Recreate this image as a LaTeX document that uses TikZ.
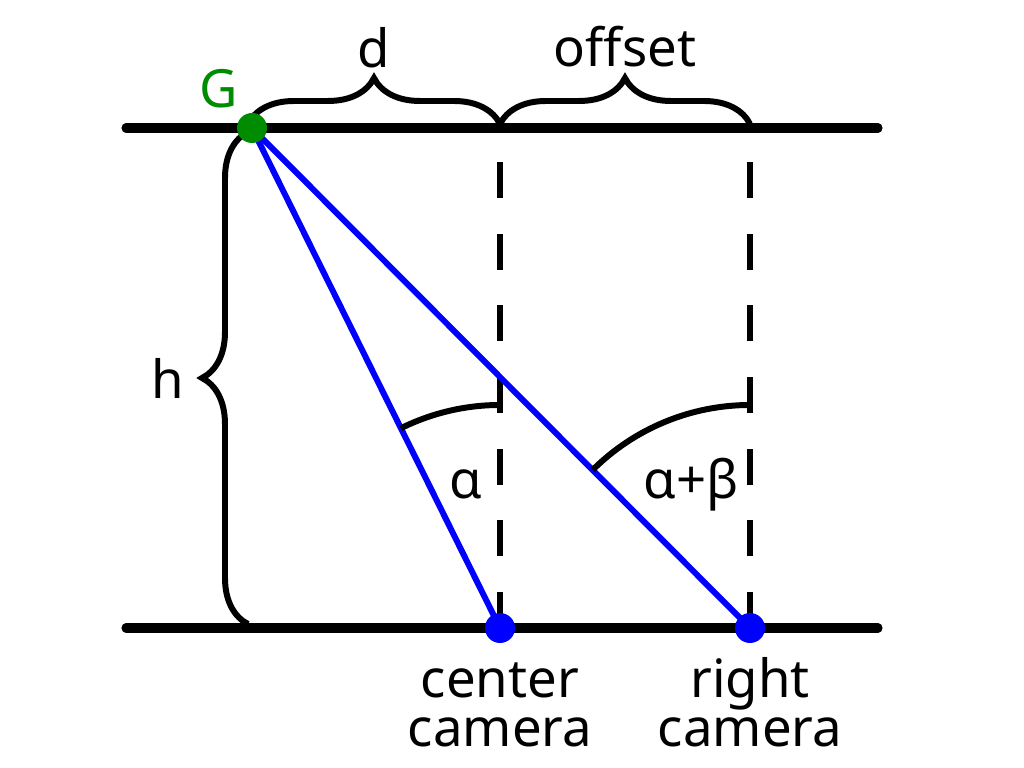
\documentclass[tikz,border=0pt]{standalone}
\usepackage{fontspec}
\setmainfont{Noto Sans}
\usetikzlibrary{positioning,decorations.pathreplacing,calc,backgrounds}
\definecolor{ptgreen}{RGB}{0,140,0}

\begin{document}
\begin{tikzpicture}[
    rail/.style={line width=2.6pt, line cap=round},
    ray/.style={draw=blue, line width=1.7pt},
    plumb/.style={line width=1.7pt, dash pattern=on 10.2pt off 10.2pt},
    brace/.style={decorate, decoration={brace, amplitude=0.46cm}, line width=1.7pt},
    angarc/.style={line width=1.7pt},
    dot/.style={circle, inner sep=0pt, minimum size=0.3cm, fill=#1},
    lbl/.style={font=\fontsize{15}{14.2}\selectfont, inner sep=0pt, align=center}
]
    \useasboundingbox (0,0) rectangle (10.24,7.68);

    % points
    \node[dot=ptgreen] (G) at (2.52,6.40) {};
    \node[dot=blue] (cc) at (5.00,1.40) {};
    \node[dot=blue] (rc) at (7.50,1.40) {};
    \coordinate (tl) at (1.26,6.40);
    \coordinate (tr) at (8.78,6.40);
    \coordinate (bl) at (1.26,1.40);
    \coordinate (br) at (8.78,1.40);
    \coordinate (ct) at (5.00,6.40);
    \coordinate (rt) at (7.50,6.40);

    \begin{pgfonlayer}{background}
        \draw[rail] (tl) -- (tr);
        \draw[rail] (bl) -- (br);
        \draw[plumb] (cc.center) -- (ct);
        \draw[plumb] (rc.center) -- (rt);
        \draw[ray] (G.center) -- (cc.center);
        \draw[ray] (G.center) -- (rc.center);
        % braces
        \draw[brace] ($(G.center)+(-0.04,0.04)$) -- ($(ct)+(0,0.04)$) node[lbl, midway, above=0.53cm] (dlbl) {d};
        \draw[brace] ($(ct)+(0,0.04)$) -- ($(rt)+(0,0.04)$) node[lbl, midway, above=0.54cm] (offlbl) {offset};
        \draw[brace] (2.48,1.44) -- (2.48,6.36) node[lbl, midway, left=0.61cm] (hlbl) {h};
    \end{pgfonlayer}

    % angles
    \draw[angarc] ($(cc)+(0,2.23)$) arc[start angle=90, end angle=116.4, radius=2.23];
    \draw[angarc] ($(rc)+(0,2.23)$) arc[start angle=90, end angle=134.9, radius=2.23];

    % labels
    \node[lbl, text=ptgreen, anchor=base] (Glbl) at (2.19,6.60) {G};
    \node[lbl, anchor=base] (albl) at (4.66,2.69) {α};
    \node[lbl, anchor=base] (ablbl) at (6.91,2.69) {α+β};
    \node[lbl, anchor=base] (cclbl) at (5.00,0.21) {center\\camera};
    \node[lbl, anchor=base] (rclbl) at (7.50,0.21) {right\\camera};
\end{tikzpicture}
\end{document}
